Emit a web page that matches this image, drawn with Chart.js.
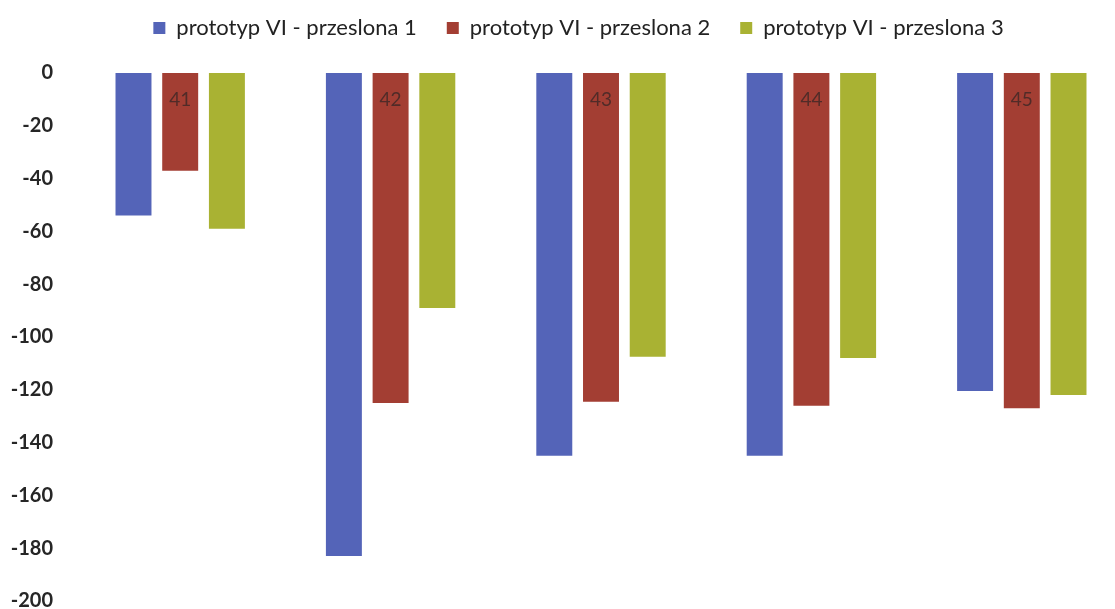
<!DOCTYPE html>
<html>
<head>
<meta charset="utf-8">
<script src="https://cdn.jsdelivr.net/npm/chart.js@4"></script>
<style>
  html, body { margin: 0; padding: 0; background: #fff; }
  #wrap { position: relative; width: 1115px; height: 609px; overflow: hidden; background: #fff; }
  #c { position: absolute; left: 0; top: -13px; }
</style>
</head>
<body>
<div id="wrap"><canvas id="c" width="1157" height="648"></canvas></div>
<script>
// Measurement points (category labels)
const categories = ['41', '42', '43', '44', '45'];

// Series names
const seriesNames = [
  'prototyp VI - przeslona 1',
  'prototyp VI - przeslona 2',
  'prototyp VI - przeslona 3'
];

// Values per series
const przeslona1 = [-54, -183, -145, -145, -120.5];
const przeslona2 = [-37, -125, -124.5, -126, -127];
const przeslona3 = [-59, -89, -107.5, -108, -122];

// Value axis range and step
const yMin = -200;
const yMax = 0;
const yStep = 20;

const seriesColors = ['#5464B8', '#A33E33', '#A9B233'];

const datasets = [przeslona1, przeslona2, przeslona3].map((values, i) => ({
  label: seriesNames[i],
  data: values,
  backgroundColor: seriesColors[i],
  borderWidth: 0,
  barPercentage: 0.77,
  categoryPercentage: 0.666
}));

new Chart(document.getElementById('c'), {
  type: 'bar',
  data: { labels: categories, datasets },
  options: {
    responsive: false,
    animation: false,
    devicePixelRatio: 1,
    layout: { padding: 0 },
    plugins: {
      legend: {
        position: 'top',
        labels: {
          boxWidth: 12,
          boxHeight: 12,
          padding: 30,
          color: '#222',
          font: { family: 'Lato', size: 22 }
        }
      },
      tooltip: { enabled: false }
    },
    scales: {
      x: {
        position: 'top',
        afterFit: (s) => { s.height = 24; },
        grid: { display: false, drawTicks: false },
        border: { display: false },
        ticks: {
          // category labels sit just below the zero line, over the bars
          z: 1,
          mirror: true,
          padding: 15,
          color: 'rgba(45,35,35,0.7)',
          font: { family: 'Lato', size: 19 }
        }
      },
      y: {
        min: yMin,
        max: yMax,
        afterFit: (s) => { s.width = 75; },
        grid: { display: false, drawTicks: false },
        border: { display: false },
        ticks: {
          stepSize: yStep,
          padding: 22,
          color: '#262626',
          font: { family: 'Lato', size: 20, weight: 'bold' }
        }
      },
      // empty right-hand margin strip
      yRight: {
        position: 'right',
        display: true,
        afterFit: (s) => { s.width = 30; },
        grid: { display: false, drawTicks: false },
        border: { display: false },
        ticks: { display: false }
      }
    }
  }
});
</script>
</body>
</html>
